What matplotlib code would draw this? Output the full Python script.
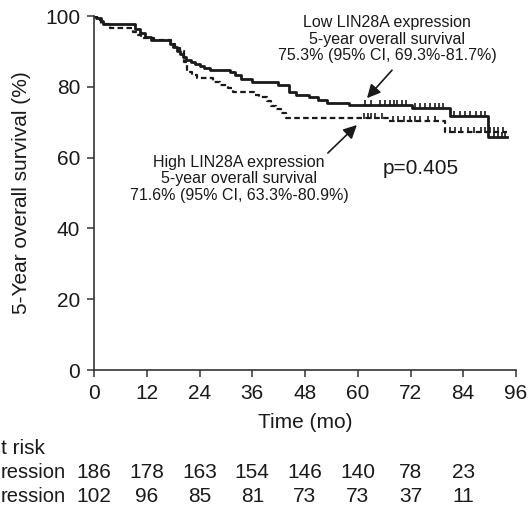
import numpy as np
import matplotlib
matplotlib.use("Agg")
import matplotlib.pyplot as plt

plt.rcParams['font.family'] = ['Liberation Sans', 'DejaVu Sans']

# Kaplan-Meier step data (time in months, survival %)
low_t = [0, 0.5, 1.5, 2.0, 9.3, 10.4, 11.5, 13.0, 17.3, 18.0, 18.8, 19.5, 20.3, 21.0, 22.0, 23.0,
         24.0, 25.0, 26.4, 31.0, 32.0, 33.5, 36.0, 41.9, 44.3, 46.0, 49.0, 51.0, 53.0, 57.9,
         72.3, 81.0, 89.7]
low_s = [100, 99.3, 98.5, 97.7, 96.2, 95.1, 94.2, 93.2, 92.2, 91.2, 90.2, 89.2, 88.4, 87.7, 87.0, 86.4,
         85.8, 85.2, 84.7, 84.3, 83.3, 82.3, 81.4, 80.5, 78.6, 77.7, 77.0, 76.3, 75.4, 74.9,
         73.9, 71.7, 65.9]
low_end = 94.0
low_cens = [61.6, 63.0, 65.0, 66.2, 67.3, 68.2, 69.0, 70.0, 71.0, 73.0, 74.2, 75.3, 76.4, 77.5, 78.5,
            79.5, 82.0, 83.2, 84.4, 85.6, 86.8, 88.0, 89.0, 91.0, 92.0, 92.8, 93.5]

high_t = [0, 0.7, 1.5, 3.6, 8.9, 9.8, 10.6, 13.6, 17.5, 18.5, 19.6, 20.4, 21.2, 22.2, 23.4, 27.1,
          28.7, 30.5, 31.7, 36.3, 37.5, 39.3, 40.3, 41.5, 42.5, 43.6, 67.0, 79.8]
high_s = [100, 99.0, 97.8, 96.5, 95.6, 94.6, 93.7, 93.2, 92.0, 91.0, 90.2, 87.0, 84.3, 83.2, 82.4, 81.4,
          80.5, 79.6, 78.6, 77.6, 77.0, 76.0, 74.6, 73.6, 72.5, 71.1, 70.2, 67.3]
high_end = 94.0
high_cens = [61.5, 62.3, 63.0, 64.0, 65.5, 68.0, 69.2, 70.5, 71.8, 73.0, 74.2, 76.0, 77.5,
             81.0, 82.2, 83.5, 85.0, 86.5, 88.0, 89.0, 90.0, 91.0, 92.0, 93.0]

xticks = [0, 12, 24, 36, 48, 60, 72, 84, 96]
yticks = [0, 20, 40, 60, 80, 100]

# number-at-risk table (the reference image is cropped at its left edge,
# so only the visible tail of each row label is shown)
risk_title = 't risk'
risk_row_labels = ['ression', 'ression']
risk_times = [0, 12, 24, 36, 48, 60, 72, 84]
risk_low = [186, 178, 163, 154, 146, 140, 78, 23]
risk_high = [102, 96, 85, 81, 73, 73, 37, 11]

W, H = 529, 507
fig = plt.figure(figsize=(W / 100, H / 100), dpi=100)
ax = fig.add_axes([94 / W, 1 - 370 / H, (516 - 94) / W, (370 - 16) / H])

col = '#1a1a1a'

def km(ax, t, s, end, cens, **kw):
    tt = list(t) + [end]
    ss = list(s) + [s[-1]]
    ax.step(tt, ss, where='post', color=col, **kw)
    idx = np.searchsorted(np.array(t), np.array(cens), side='right') - 1
    cy = np.array(s)[idx]
    ax.plot(cens, cy + 0.6, linestyle='none', marker='|', markersize=4.5,
            markeredgewidth=1.2, color=col)

km(ax, low_t, low_s, low_end, low_cens, lw=2.0)
km(ax, high_t, high_s, high_end, high_cens, lw=1.6, linestyle=(0, (2.5, 1.5)))

ax.set_xlim(0, 96)
ax.set_ylim(0, 100)
ax.set_xticks(xticks)
ax.set_yticks(yticks)
for sp in ['top', 'right']:
    ax.spines[sp].set_visible(False)
for sp in ['left', 'bottom']:
    ax.spines[sp].set_color('#333333')
    ax.spines[sp].set_linewidth(1.2)
ax.tick_params(direction='out', length=5, width=1.1, color='#333333',
               labelsize=15, labelcolor=col, pad=5)

fig.text(21.7 / W, 1 - 193 / H, '5-Year overall survival (%)', rotation=90,
         ha='center', va='center', fontsize=15, color=col)
fig.text(305 / W, 1 - 422 / H, 'Time (mo)', ha='center', va='center', fontsize=15, color=col)

# annotations
ax.text(66.7, 93.5, 'Low LIN28A expression\n5-year overall survival\n75.3% (95% CI, 69.3%-81.7%)',
        ha='center', va='center', fontsize=11.5, color=col, linespacing=1.1)
ax.text(33.0, 54.0, 'High LIN28A expression\n5-year overall survival\n71.6% (95% CI, 63.3%-80.9%)',
        ha='center', va='center', fontsize=11.5, color=col, linespacing=1.1)
ax.text(74.4, 56.8, 'p=0.405', ha='center', va='center', fontsize=15, color=col)

ap = dict(arrowstyle='-|>,head_length=0.8,head_width=0.4', color=col, lw=1.2,
          shrinkA=0, shrinkB=0)
ax.annotate('', xy=(62.1, 76.8), xytext=(67.8, 84.7), arrowprops=ap)
ax.annotate('', xy=(59.8, 69.2), xytext=(53.2, 61.3), arrowprops=ap)

# number at risk table
fig.text(1 / W, 1 - 448 / H, risk_title, ha='left', va='center', fontsize=15, color=col)
fig.text(1 / W, 1 - 472 / H, risk_row_labels[0], ha='left', va='center', fontsize=14.5, color=col)
fig.text(1 / W, 1 - 496 / H, risk_row_labels[1], ha='left', va='center', fontsize=14.5, color=col)
for t, a, b in zip(risk_times, risk_low, risk_high):
    xf = (94 + t * 422 / 96) / W
    fig.text(xf, 1 - 472 / H, str(a), ha='center', va='center', fontsize=15, color=col)
    fig.text(xf, 1 - 496 / H, str(b), ha='center', va='center', fontsize=15, color=col)

fig.savefig('out.png', dpi=100)
